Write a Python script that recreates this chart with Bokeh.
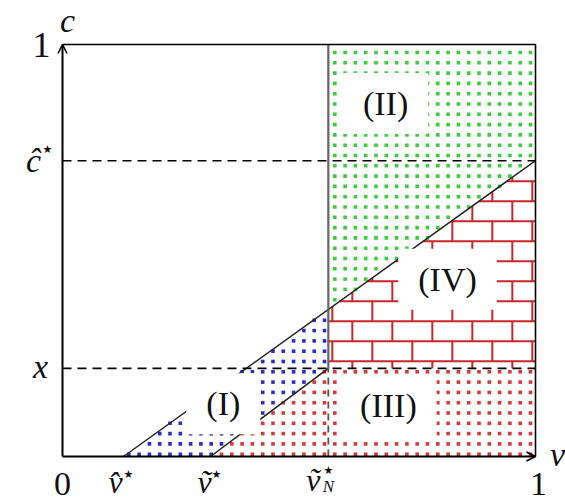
import numpy as np
from bokeh.plotting import figure
from bokeh.models import Range1d, Arrow, OpenHead, Label
from bokeh.core.properties import value
from bokeh.embed import file_html
from bokeh.resources import INLINE

# Thresholds on the unit (v, c) square
v_hat = 0.129      # \hat v^*
v_tilde = 0.313    # \tilde v^*
v_N = 0.562        # \tilde v_N^*
x_level = 0.214    # x
c_hat = 0.718      # \hat c^*

region_names = ["(I)", "(II)", "(III)", "(IV)"]
region_x = [0.340, 0.683, 0.689, 0.814]
region_y = [0.128, 0.857, 0.123, 0.430]

# Canvas geometry (pixels)
W, H = 565, 501
PX_X, PX_Y = 473.0, 412.0      # pixels per unit along v and c
LEFT, BOTTOM = 62, 45          # origin position inside the canvas
SERIF = "Liberation Serif"

p = figure(width=W, height=H,
           x_range=Range1d(-LEFT / PX_X, (W - LEFT) / PX_X),
           y_range=Range1d(-BOTTOM / PX_Y, (H - BOTTOM) / PX_Y),
           output_backend="svg", toolbar_location=None, min_border=0,
           x_axis_type=None, y_axis_type=None)
p.outline_line_color = None
p.grid.visible = False
p.background_fill_color = "white"
p.border_fill_color = "white"

# Upper diagonal through (v_hat, 0) and (1, c_hat); lower one from (v_tilde, 0) to (v_N, x)
slope = c_hat / (1 - v_hat)
c_at_vN = slope * (v_N - v_hat)

regions = {
    "I": [(v_hat, 0), (v_N, c_at_vN), (v_N, x_level), (v_tilde, 0)],
    "III": [(v_tilde, 0), (v_N, x_level), (1, x_level), (1, 0)],
    "II": [(v_N, c_at_vN), (v_N, 1), (1, 1), (1, c_hat)],
}
dot_colors = {"I": "#2c2cc8", "III": "#d43a3a", "II": "#3ccc3c"}


def inside(px, py, poly):
    poly = np.asarray(poly, dtype=float)
    res = np.zeros(px.shape, dtype=bool)
    n = len(poly)
    for i in range(n):
        x1, y1 = poly[i]
        x2, y2 = poly[(i + 1) % n]
        cond = (y1 > py) != (y2 > py)
        with np.errstate(divide="ignore", invalid="ignore"):
            xc = x1 + (py - y1) * (x2 - x1) / (y2 - y1)
        res ^= cond & (px < xc)
    return res


# Dot fill pattern on a regular grid
step_x, step_y = 10.3 / PX_X, 10.3 / PX_Y
gx = np.arange(1 - 5 / PX_X, 0, -step_x)
gy = np.arange(1 - 8 / PX_Y, 0, -step_y)
GX, GY = np.meshgrid(gx, gy)
GX, GY = GX.ravel(), GY.ravel()
for key, poly in regions.items():
    m = inside(GX, GY, poly)
    p.scatter(GX[m], GY[m], marker="square", size=3.6,
              fill_color=dot_colors[key], line_color=None)

# Brick pattern for region IV
brick_h, brick_w = 20 / PX_Y, 40 / PX_X
brick_y0 = x_level - 13 / PX_Y
brick_x0 = v_N + 4 / PX_X
xs, ys = [], []


def left_edge(c):
    return v_N if c <= c_at_vN else v_hat + c / slope


k = 0
while brick_y0 + k * brick_h < c_hat:
    ylo = brick_y0 + k * brick_h
    yhi = ylo + brick_h
    if ylo > x_level:
        xs.append([left_edge(ylo), 1])
        ys.append([ylo, ylo])
    shift = 0 if k % 2 else brick_w / 2
    bx = brick_x0 + shift
    while bx < 1:
        lo = max(ylo, x_level)
        hi = min(yhi, slope * (bx - v_hat))
        if hi > lo and bx > v_N:
            xs.append([bx, bx])
            ys.append([lo, hi])
        bx += brick_w
    k += 1
p.multi_line(xs, ys, line_color="#c62828", line_width=2)

# Boundary lines
p.line([v_hat, 1], [0, c_hat], line_color="#222222", line_width=1.5)
p.line([v_tilde, v_N], [0, x_level], line_color="#222222", line_width=1.5)
p.line([v_N, v_N], [x_level, 1], line_color="#666666", line_width=2.2)
p.line([v_N, v_N], [0, x_level], line_color="#555555", line_width=1.8, line_dash="7 5")
p.line([0, 1], [x_level, x_level], line_color="black", line_width=1.6, line_dash="9 6")
p.line([0, 1], [c_hat, c_hat], line_color="black", line_width=1.6, line_dash="9 6")

# Frame and axes
p.line([0, 1, 1], [1, 1, 0], line_color="black", line_width=1.6)
p.add_layout(Arrow(end=OpenHead(size=9, line_width=1.6, line_color="black"),
                   x_start=0, y_start=0, x_end=0, y_end=1,
                   line_width=2, line_color="black"))
p.add_layout(Arrow(end=OpenHead(size=9, line_width=1.6, line_color="black"),
                   x_start=0, y_start=0, x_end=1, y_end=0,
                   line_width=2, line_color="black"))

# Axis texts
def txt(x, y, t, dx, dy, size, style="normal", font=SERIF):
    p.text([x], [y], text=[t], x_offset=dx, y_offset=dy,
           text_font=value(font), text_font_style=style,
           text_font_size=size, text_align="center", text_baseline="middle",
           text_color="#111111")


txt(0, 0, "0", 0, 27, "34px")
txt(1, 0, "1", 3, 27, "34px")
txt(0, 1, "1", -21, 0, "36px")
txt(0, 1, "c", 5, -24, "34px", "italic")
txt(1, 0, "v", 22, -2, "34px", "italic")
txt(0, x_level, "x", -22, -2, "34px", "italic")
txt(0, c_hat, "c\u0302", -29, 0, "34px", "italic")
txt(0, c_hat, "\u2605", -15, -11, "11px", font="DejaVu Sans")
txt(v_hat, 0, "v\u0302", -8, 25, "32px", "italic")
txt(v_hat, 0, "\u2605", 5, 18, "11px", font="DejaVu Sans")
txt(v_tilde, 0, "v\u0303", -6, 25, "32px", "italic")
txt(v_tilde, 0, "\u2605", 6, 18, "11px", font="DejaVu Sans")
txt(v_N, 0, "v\u0303", -15, 23, "32px", "italic")
txt(v_N, 0, "N", 0, 30, "17px", "italic")
txt(v_N, 0, "\u2605", 0, 14, "11px", font="DejaVu Sans")

# Region labels on white boxes
for name, lx, ly in zip(region_names, region_x, region_y):
    p.add_layout(Label(x=lx, y=ly, text=name, text_align="center",
                       text_baseline="middle", text_font=SERIF,
                       text_font_size="34px", text_color="#111111",
                       background_fill_color="white",
                       padding=dict(x=20, y=12)))

open("out.html", "w").write(file_html(p, INLINE))
